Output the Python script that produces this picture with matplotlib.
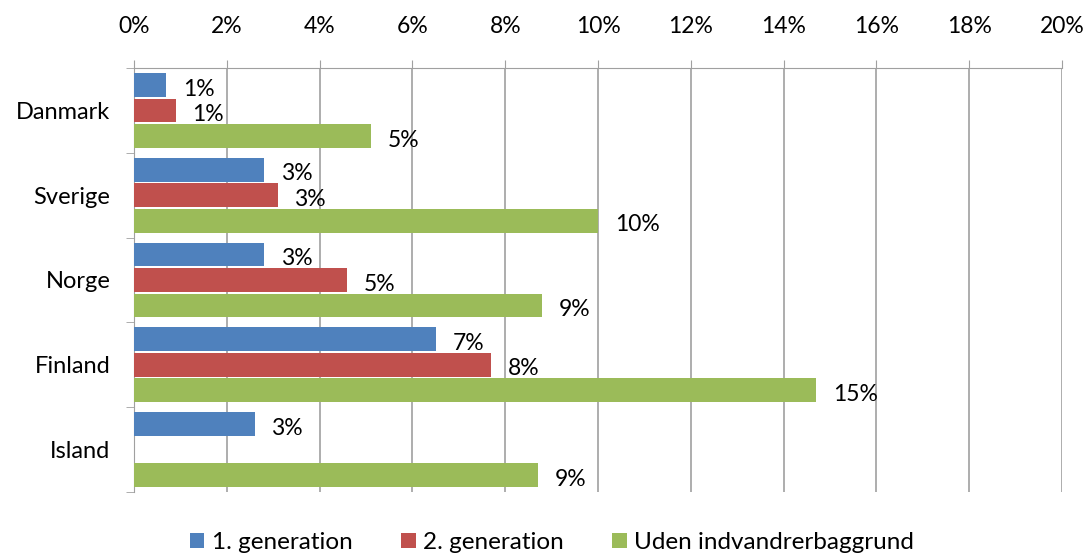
import matplotlib.pyplot as plt
import numpy as np
from matplotlib.ticker import MultipleLocator, FuncFormatter

plt.rcParams['font.family'] = ['Lato', 'DejaVu Sans']

lande = ['Danmark', 'Sverige', 'Norge', 'Finland', 'Island']
serier = ['1. generation', '2. generation', 'Uden indvandrerbaggrund']
gen1 = [0.7, 2.8, 2.8, 6.5, 2.6]
gen2 = [0.9, 3.1, 4.6, 7.7, np.nan]
uden = [5.1, 10.0, 8.8, 14.7, 8.7]
# labels as printed in the chart
gen1_txt = ['1%', '3%', '3%', '7%', '3%']
gen2_txt = ['1%', '3%', '5%', '8%', '']
uden_txt = ['5%', '10%', '9%', '15%', '9%']
farver = ['#4F81BD', '#C0504D', '#9BBB59']

fig = plt.figure(figsize=(10.88, 5.58), dpi=100)
ax = fig.add_axes([134/1088, 1-492/558, (1062-134)/1088, (492-68)/558])

y = np.arange(len(lande))
offs = [-0.3, 0.0, 0.3]
for vals, txts, navn, farve, d in zip([gen1, gen2, uden], [gen1_txt, gen2_txt, uden_txt],
                                      serier, farver, offs):
    ax.barh(y + d, vals, height=0.28, color=farve, label=navn, zorder=3)
    for yi, v, t in zip(y, vals, txts):
        if np.isnan(v):
            continue
        ax.annotate(t, (v, yi + d), xytext=(12, -3),
                    textcoords='offset points', va='center', ha='left',
                    fontsize=16.5, color='black')

ax.set_xlim(0, 20)
ax.set_ylim(4.5, -0.5)
ax.xaxis.set_major_locator(MultipleLocator(2))
ax.xaxis.set_major_formatter(FuncFormatter(lambda v, p: '%d%%' % v))
ax.xaxis.tick_top()
ax.tick_params(axis='x', direction='out', length=6, color='#A0A0A0',
               labelsize=16.5, pad=16)
ax.set_yticks(y)
ax.set_yticklabels(lande)
ax.tick_params(axis='y', length=0, labelsize=17, pad=17)
ax.set_yticks(np.arange(-0.5, 5, 1), minor=True)
ax.tick_params(axis='y', which='minor', length=6, color='#A0A0A0', direction='out')
ax.grid(axis='x', color='#A0A0A0', linewidth=1.2, zorder=0)
for s in ['right', 'bottom']:
    ax.spines[s].set_visible(False)
ax.spines['top'].set_color('#A0A0A0')
ax.spines['left'].set_color('#A0A0A0')

fig.legend(loc='lower center', bbox_to_anchor=(552/1088, -0.03), ncol=3,
           frameon=False, fontsize=17.5, handlelength=0.6, handleheight=0.6,
           handletextpad=0.3, columnspacing=2.0)

fig.savefig('out.png', dpi=100)
